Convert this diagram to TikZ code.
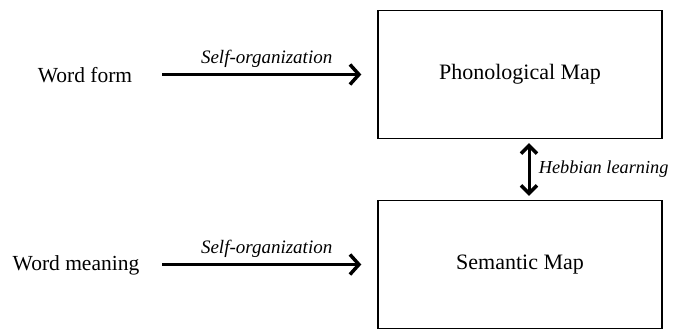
\documentclass[tikz,border=0pt]{standalone}
\usepackage{fontspec}
\setmainfont{Liberation Serif}
\usepackage{tikz}
\usetikzlibrary{arrows.meta,positioning}

\tikzset{
  mapbox/.style={draw, line width=1.4pt, minimum width=284pt, minimum height=128pt, font=\fontsize{22}{25}\selectfont},
  inputtext/.style={anchor=base, font=\fontsize{21.5}{24}\selectfont},
  flow/.style={line width=3pt, -{Straight Barb[length=9pt,width=20pt,line width=3.5pt]}},
  bothflow/.style={line width=3pt, {Straight Barb[length=8pt,width=16pt,line width=3.5pt]}-{Straight Barb[length=8pt,width=16pt,line width=3.5pt]}},
  edgetext/.style={font=\fontsize{19}{22}\selectfont\itshape}
}

\begin{document}
\begin{tikzpicture}
\useasboundingbox (0,0) rectangle (674pt,-330pt);
    \node[mapbox] (phon) at (520pt,-74.5pt) {Phonological Map};
    \node[mapbox] (sem) at (520pt,-264.5pt) {Semantic Map};
    \node[inputtext] (form) at (85pt,-82pt) {Word form};
    \node[inputtext] (meaning) at (76pt,-270pt) {Word meaning};
    \coordinate (formstart) at (162pt,-74.5pt);
    \coordinate (meaningstart) at (162pt,-264.5pt);
    \draw[flow, shorten >=16pt] (formstart) -- (phon.west) node[midway, above=2pt, xshift=-3pt, edgetext] {Self-organization};
    \draw[flow, shorten >=16pt] (meaningstart) -- (sem.west) node[midway, above=2pt, xshift=-3pt, edgetext] {Self-organization};
    \draw[bothflow, shorten <=4pt, shorten >=4pt] ([xshift=9pt]phon.south) -- ([xshift=9pt]sem.north) node[midway, right=5pt, edgetext, font=\fontsize{18.3}{21}\selectfont\itshape] {Hebbian learning};
\end{tikzpicture}
\end{document}
